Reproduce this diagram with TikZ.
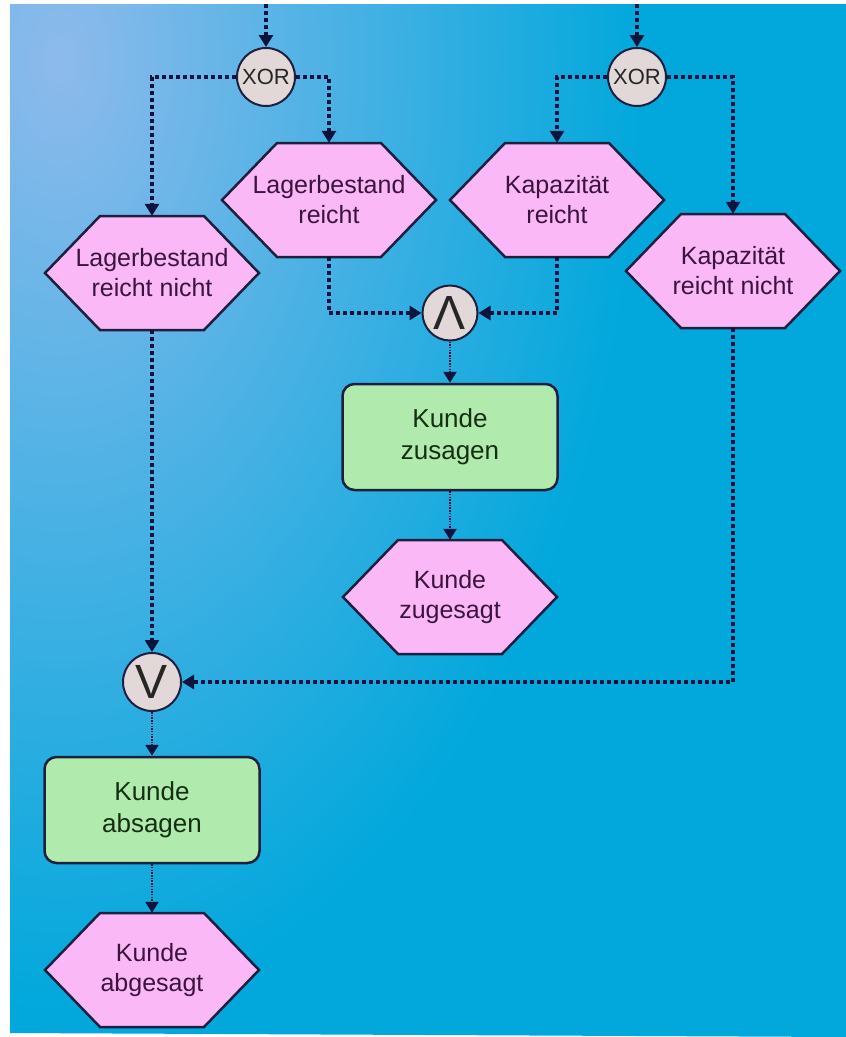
\documentclass[tikz,border=0pt]{standalone}
\usepackage{fontspec}
\setmainfont{Liberation Sans}
\usetikzlibrary{arrows.meta}

\definecolor{bgblue}{RGB}{2,168,220}
\definecolor{bglight}{RGB}{142,186,236}
\definecolor{evfill}{RGB}{250,184,246}
\definecolor{fnfill}{RGB}{176,234,172}
\definecolor{gatefill}{RGB}{226,216,216}
\definecolor{edge}{RGB}{30,30,62}
\definecolor{flow}{RGB}{12,20,62}
\definecolor{evtext}{RGB}{58,20,62}
\definecolor{fntext}{RGB}{22,46,20}

\tikzset{
  evnode/.style={minimum width=214pt, minimum height=114pt, inner sep=0pt,
    align=center, text=evtext, font=\fontsize{25}{30}\selectfont},
  evshape/.style={fill=evfill, draw=edge, line width=2.5pt, line join=miter},
  fnbox/.style={draw=edge, line width=2.5pt, fill=fnfill, rounded corners=12pt,
    minimum width=215pt, minimum height=106pt, inner sep=0pt, align=center,
    text=fntext, font=\fontsize{26}{32}\selectfont},
  gate/.style={circle, draw=edge, line width=2pt, fill=gatefill,
    minimum size=58pt, inner sep=0pt, text=black!85},
  gatesym/.style={font=\fontsize{48}{48}\selectfont},
  flowline/.style={draw=flow, line width=4.5pt, dash pattern=on 3.8pt off 3.2pt,
    -{Triangle[width=14pt,length=12pt]}},
  thinflow/.style={draw=flow, line width=2.5pt, dash pattern=on 1.5pt off 1.2pt,
    -{Triangle[width=13pt,length=11pt]}},
}

% event hexagon: name, x, y, label
\newcommand\evhex[4]{%
  \path[evshape] ({#2-107},#3) -- ({#2-52},{#3-57}) -- ({#2+52},{#3-57})
    -- ({#2+107},#3) -- ({#2+52},{#3+57}) -- ({#2-52},{#3+57}) -- cycle;
  \node[evnode] (#1) at (#2,#3) {#4};
}

\begin{document}
\begin{tikzpicture}[x=1pt,y=-1pt]
\useasboundingbox (0,0) rectangle (846,1037);
\fill[white] (0,0) rectangle (846,1037);
\fill[bgblue] (10,4) -- (846,4) -- (846,1037) -- (10,1033) -- cycle;
\begin{scope}
  \clip (10,4) -- (846,4) -- (846,1037) -- (10,1033) -- cycle;
  \shade[inner color=bglight, outer color=bgblue] (60,60) ellipse (580pt and 950pt);
\end{scope}

% gates
\node[gate, font=\fontsize{22}{22}\selectfont] (xor1) at (266,77) {XOR};
\node[gate, font=\fontsize{22}{22}\selectfont] (xor2) at (637,77) {XOR};
\node[gate, minimum size=55pt, gatesym] (and) at (450,313) {\scalebox{1}[-1]{V}};
\node[gate, gatesym] (or) at (152,682) {V};

% events
\evhex{lagnicht}{152}{273}{Lagerbestand\\reicht nicht}
\evhex{lagja}{329}{200}{Lagerbestand\\reicht}
\evhex{kapja}{557}{200}{Kapazität\\reicht}
\evhex{kapnicht}{733}{271}{Kapazität\\reicht nicht}
\evhex{zugesagt}{450}{597}{Kunde\\zugesagt}
\evhex{abgesagt}{152}{970}{Kunde\\abgesagt}

% functions
\node[fnbox] (zusagen) at (450,437) {Kunde\\zusagen};
\node[fnbox] (absagen) at (152,810) {Kunde\\absagen};

% control flow
\coordinate (in1) at (266,4);
\coordinate (in2) at (637,4);
\draw[flowline] (in1) -- (xor1);
\draw[flowline] (in2) -- (xor2);
\draw[flowline] (xor1.west) -| (lagnicht.north);
\draw[flowline] (xor1.east) -| (lagja.north);
\draw[flowline] (xor2.west) -| (kapja.north);
\draw[flowline] (xor2.east) -| (kapnicht.north);
\draw[flowline] (lagja.south) |- (and.west);
\draw[flowline] (kapja.south) |- (and.east);
\draw[thinflow] (and) -- (zusagen);
\draw[thinflow] (zusagen) -- (zugesagt);
\draw[flowline] (lagnicht.south) -- (or.north);
\draw[flowline] (kapnicht.south) |- (or.east);
\draw[thinflow] (or) -- (absagen);
\draw[thinflow] (absagen) -- (abgesagt);
\end{tikzpicture}
\end{document}
